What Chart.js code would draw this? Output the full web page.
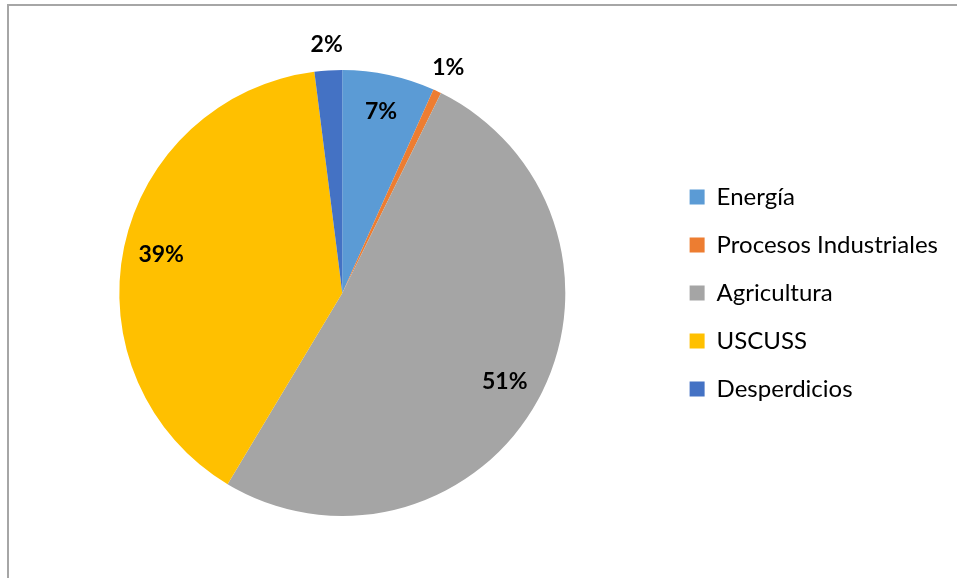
<!DOCTYPE html>
<html lang="es">
<head>
<meta charset="UTF-8">
<title>Emisiones por sector</title>
<script src="https://cdn.jsdelivr.net/npm/chart.js@4.4.0/dist/chart.umd.min.js"></script>
<style>
  html, body { margin: 0; padding: 0; background: #fff; overflow: hidden; }
  .marco { position: absolute; left: 7px; top: 4px; width: 1000px; height: 1000px;
           border-top: 2px solid #a6a6a6; border-left: 2px solid #a6a6a6; }
  canvas { position: absolute; left: 0; top: 0; }
</style>
</head>
<body>
<div class="marco"></div>
<canvas id="chart" width="957" height="578"></canvas>
<script>
const sectores = ['Energía', 'Procesos Industriales', 'Agricultura', 'USCUSS', 'Desperdicios'];
const porcentajes = [6.7, 0.6, 51.3, 39.4, 2.0];
const colores = ['#5B9BD5', '#ED7D31', '#A5A5A5', '#FFC000', '#4472C4'];

// porcentaje de cada sector: dentro si es grande, fuera si es pequeño
const etiquetas = {
    id: 'etiquetas',
    afterDatasetsDraw(chart) {
        const ctx = chart.ctx
        const datos = chart.data.datasets[0].data
        const total = datos.reduce((a, b) => a + b, 0)
        ctx.save()
        ctx.font = 'bold 23px Lato'
        ctx.fillStyle = '#000'
        ctx.textAlign = 'center'
        ctx.textBaseline = 'middle'
        chart.getDatasetMeta(0).data.forEach((arc, i) => {
            const p = datos[i] / total * 100
            const a = (arc.startAngle + arc.endAngle) / 2
            const r = p < 5 ? arc.outerRadius + 26 : arc.outerRadius * 0.83
            ctx.fillText(Math.round(p) + '%', arc.x + Math.cos(a) * r, arc.y + Math.sin(a) * r)
        })
        ctx.restore()
    }
}

let chart = document.getElementById('chart').getContext('2d')
let pieChart = new Chart(chart, {
    type: 'pie',
    data: {
        labels: sectores,
        datasets: [{
            data: porcentajes,
            backgroundColor: colores,
            borderWidth: 0
        }]
    },
    options: {
        responsive: false,
        animation: false,
        layout: { padding: { top: 70, bottom: 62, left: 19, right: 9 } },
        plugins: {
            tooltip: { enabled: false },
            legend: {
                position: 'right',
                labels: {
                    boxWidth: 15,
                    boxHeight: 15,
                    padding: 24,
                    color: '#000',
                    font: { family: 'Lato', size: 24 }
                }
            }
        }
    },
    plugins: [etiquetas]
})
</script>
</body>
</html>
